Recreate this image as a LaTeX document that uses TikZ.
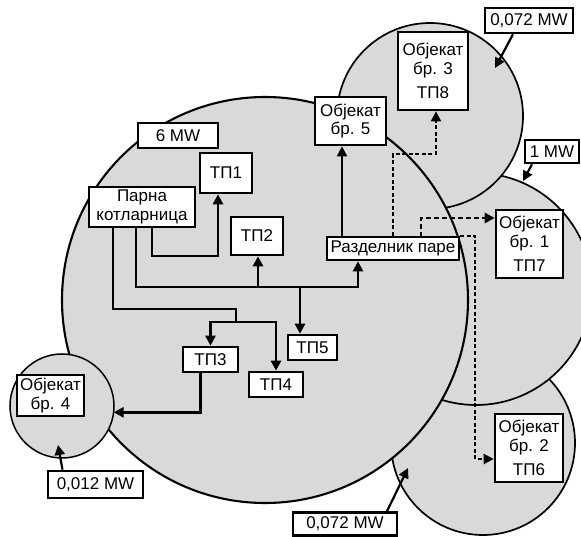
\documentclass[tikz,border=0pt]{standalone}
\usepackage{fontspec}
\setmainfont{Liberation Sans}
\usetikzlibrary{arrows.meta,positioning}

\begin{document}
\begin{tikzpicture}[x=1pt, y=-1pt,
        zone/.style={circle, draw, fill=black!15, inner sep=0pt, outer sep=0pt, line width=1.7pt},
        box/.style={draw, fill=white, line width=2.6pt, inner sep=0pt, align=center, font=\fontsize{17}{18.5}\selectfont},
        pipe/.style={-{Triangle[length=10pt,width=10pt]}, line width=2.6pt},
        thinpipe/.style={line width=1.8pt},
        steam/.style={-{Triangle[length=10pt,width=10pt]}, line width=1.8pt, dash pattern=on 4pt off 2.5pt}
    ]
    \useasboundingbox (0,0) rectangle (581,537);

    % Zone potrošnje
    \node[zone, minimum size=184pt] (z2) at (483,443) {};
    \node[zone, minimum size=232pt] (z1) at (476,289) {};
    \node[zone, minimum size=186pt] (z3) at (430,116) {};
    \node[zone, minimum size=406pt, line width=2.1pt] (z0) at (265,300) {};
    \node[zone, minimum size=104pt, line width=1.5pt] (z4) at (62,406) {};

    % Snage
    \node[box, minimum width=88pt, minimum height=25pt] (p3) at (529,20.5) {0,072 MW};
    \node[box, minimum width=54pt, minimum height=23pt] (p1) at (552,151.5) {1 MW};
    \node[box, minimum width=80pt, minimum height=25pt] (p0) at (178,135.5) {6 MW};
    \node[box, minimum width=95pt, minimum height=27pt] (p4) at (95.5,484.5) {0,012 MW};
    \node[box, minimum width=104pt, minimum height=23pt] (p2) at (345,524) {0,072 MW};

    % Objekti i podstanice
    \node[box, minimum width=70pt, minimum height=78pt] (obj3) at (433,71) {Објекат\\бр. 3\\[6pt]ТП8};
    \node[box, minimum width=71pt, minimum height=48pt] (obj5) at (350.5,121) {Објекат\\бр. 5};
    \node[box, minimum width=67pt, minimum height=68pt] (obj1) at (529.5,244) {Објекат\\бр. 1\\[6pt]ТП7};
    \node[box, minimum width=68pt, minimum height=68pt] (obj2) at (529,448) {Објекат\\бр. 2\\[6pt]ТП6};
    \node[box, minimum width=67pt, minimum height=41pt] (obj4) at (50.5,395.5) {Објекат\\бр. 4};
    \node[box, minimum width=132pt, minimum height=23pt] (razd) at (393,248.5) {Разделник паре};
    \node[box, minimum width=106pt, minimum height=40pt] (kot) at (142,207) {Парна\\котларница};
    \node[box, minimum width=52pt, minimum height=40pt] (tp1) at (226,173) {ТП1};
    \node[box, minimum width=52pt, minimum height=38pt] (tp2) at (257,236) {ТП2};
    \node[box, minimum width=55pt, minimum height=25pt] (tp3) at (210.5,359.5) {ТП3};
    \node[box, minimum width=54pt, minimum height=25pt] (tp4) at (276,384.5) {ТП4};
    \node[box, minimum width=49pt, minimum height=25pt] (tp5) at (312.5,347.5) {ТП5};

    % Parni vodovi iz kotlarnice
    \coordinate (k1) at (218,256);
    \draw[pipe] ([xshift=10pt]kot.south) |- (k1) -- (k1 |- tp1.south);
    \coordinate (k2) at (358,287);
    \coordinate (k3) at (258,287);
    \coordinate (k4) at (300,287);
    \draw[pipe] ([xshift=-6pt]kot.south) |- (k2) -- (k2 |- razd.south);
    \draw[pipe] (k3) -- (k3 |- tp2.south);
    \draw[pipe] (k4) -- (k4 |- tp5.north);
    \coordinate (k5) at (236,309);
    \coordinate (k6) at (236,322);
    \draw[thinpipe] ([xshift=-29pt]kot.south) |- (k5) -- (k6);
    \draw[pipe] (k6) -| (tp3.north);
    \draw[pipe] (k6) -| (tp4.north);
    \draw[pipe] ([xshift=-10pt]tp3.south) |- (z4.-7);

    % Vodovi iz razdelnika
    \coordinate (r5) at (342,237);
    \draw[thinpipe, -{Triangle[length=10pt,width=10pt]}] (r5) -- (r5 |- obj5.south);
    \coordinate (s1) at (436,154);
    \draw[steam] (razd.north) |- (s1) -- (s1 |- obj3.south);
    \coordinate (s0) at (421,237);
    \coordinate (s2) at (421,218);
    \draw[steam, line width=2.6pt, dash pattern=on 5pt off 3pt] (s0) -- (s2) -- (s2 -| obj1.west);
    \coordinate (s3) at (475,459);
    \draw[steam, line width=2.2pt] (razd.north east) -| (s3) -- (s3 -| obj2.west);

    % Strelice snaga
    \coordinate (a3) at (495,68);
    \coordinate (a1) at (523,181);
    \coordinate (a4) at (58,445);
    \coordinate (a2) at (408,468);
    \draw[pipe, line width=2.2pt] ([xshift=-16pt]p3.south) -- (a3);
    \draw[pipe, line width=2.2pt] ([xshift=-20pt]p1.south) -- (a1);
    \draw[pipe, line width=2.2pt] ([xshift=-33pt]p4.north) -- (a4);
    \draw[pipe, line width=2.2pt] ([xshift=42pt]p2.north) -- (a2);

\end{tikzpicture}
\end{document}
